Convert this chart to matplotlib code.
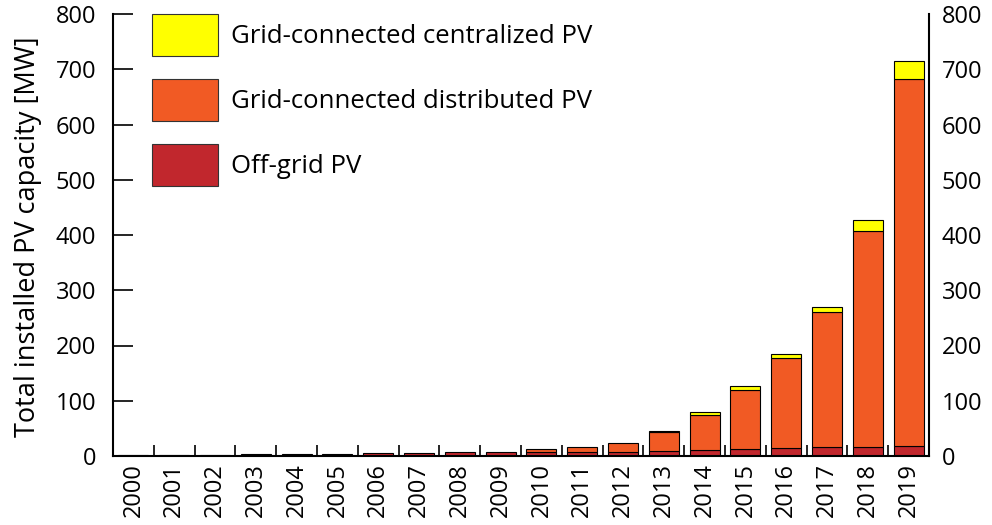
import matplotlib
matplotlib.use("Agg")
import matplotlib.pyplot as plt
import numpy as np

plt.rcParams["font.family"] = ["Open Sans", "DejaVu Sans"]

years = [str(y) for y in range(2000, 2020)]
off_grid = [1, 1, 2, 3, 4, 4, 5, 5, 8, 8, 8, 8, 8, 9, 11, 12, 14, 16, 16, 18]
distributed = [0, 0, 0, 0, 0, 0, 0, 0, 0, 0, 4, 9, 16, 35, 64, 107, 163, 245, 392, 664]
centralized = [0, 0, 0, 0, 0, 0, 0, 0, 0, 0, 0, 0, 0, 1, 4, 8, 8, 9, 20, 33]
yticks = [0, 100, 200, 300, 400, 500, 600, 700, 800]

colors = {"off": "#C1272D", "dist": "#F15A24", "cent": "#FFFF00"}

fig = plt.figure(figsize=(9.92, 5.25), dpi=100)
ax = fig.add_axes([113 / 992, 69 / 525, 816 / 992, 442 / 525])

x = np.arange(len(years))
off = np.array(off_grid, dtype=float)
dist = np.array(distributed, dtype=float)
cent = np.array(centralized, dtype=float)


def lw(vals):
    return [0.8 if v > 0 else 0 for v in vals]


width = 0.74
b1 = ax.bar(x, off, width, color=colors["off"], edgecolor="black", linewidth=lw(off),
            label="Off-grid PV")
b2 = ax.bar(x, dist, width, bottom=off, color=colors["dist"], edgecolor="black",
            linewidth=lw(dist), label="Grid-connected distributed PV")
b3 = ax.bar(x, cent, width, bottom=off + dist, color=colors["cent"], edgecolor="black",
            linewidth=lw(cent), label="Grid-connected centralized PV")

ax.set_xlim(-0.5, len(years) - 0.5)
ax.set_ylim(0, 800)
ax.set_axisbelow(True)

ax.spines["top"].set_visible(False)
for s in ("left", "right", "bottom"):
    ax.spines[s].set_linewidth(1.5)

ax.set_yticks(yticks)
ax.tick_params(axis="y", direction="in", length=14.5, width=1.2, labelsize=17,
               left=True, right=True, labelleft=True, labelright=False, pad=12)

# right-hand labels, with their own padding
ax2 = ax.twinx()
ax2.set_ylim(ax.get_ylim())
ax2.set_yticks(yticks)
ax2.tick_params(axis="y", length=0, labelsize=17, pad=9)
for s in ax2.spines.values():
    s.set_visible(False)

ax.set_xticks(x)
ax.set_xticklabels(years, rotation=90)
ax.set_xticks(x[:-1] + 0.5, minor=True)
ax.tick_params(axis="x", which="major", length=0, labelsize=17, pad=5)
ax.tick_params(axis="x", which="minor", direction="in", length=8, width=1.2,
               top=False)

fig.text(28 / 992, 1 - 237 / 525, "Total installed PV capacity [MW]",
         rotation=90, ha="center", va="center", fontsize=19.5)

leg = ax.legend(handles=[b3, b2, b1], loc="upper left",
                bbox_to_anchor=(39 / 816, 1.0), frameon=False, fontsize=18.5,
                handlelength=2.57, handleheight=2.14, labelspacing=0.9,
                handletextpad=0.5, borderpad=0, borderaxespad=0)
for h in leg.legend_handles:
    h.set_edgecolor("#333333")
    h.set_linewidth(0.8)

fig.savefig("out.png", dpi=100)
